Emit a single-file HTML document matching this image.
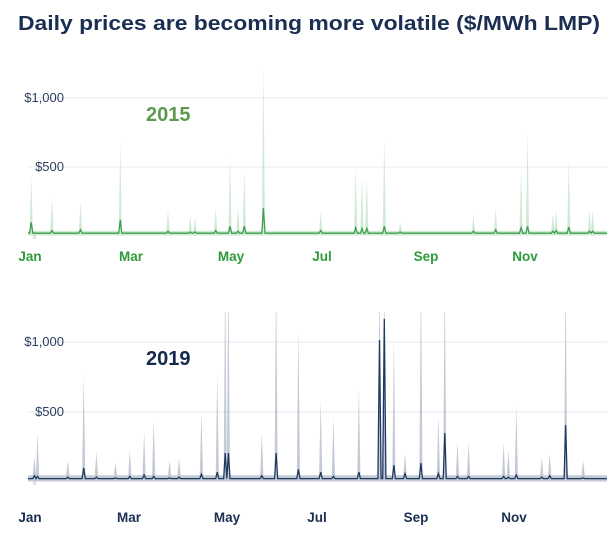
<!DOCTYPE html>
<html><head><meta charset="utf-8"><style>
html,body{margin:0;padding:0;background:#fff;}
svg{display:block;font-family:"Liberation Sans",sans-serif;}
</style></head><body>
<svg id="chart" width="612" height="535" viewBox="0 0 612 535">
<text x="18" y="30" font-size="20" font-weight="bold" fill="#1b2f52" textLength="582" lengthAdjust="spacingAndGlyphs">Daily prices are becoming more volatile ($/MWh LMP)</text>
<defs><clipPath id="clipB"><rect x="0" y="312" width="612" height="200"/></clipPath></defs>
<g id="top"></g>
<g id="bot"></g>
</svg>
<script>
// 2015 events: day, band high, median
const days2015 = [2,15,33,58,88,102,105,118,127,132,136,148,184,206,210,213,224,234,280,294,310,314,330,332,340,353,355];
const hi2015   = [428,275,246,674,188,145,130,203,565,200,478,1240,174,500,420,420,717,100,152,203,500,746,166,188,550,188,190];
const med2015  = [100,40,45,116,35,30,30,40,70,35,70,203,40,60,55,55,70,30,35,45,60,70,35,40,65,35,35];
const base2015 = {hi:38, med:20, lo:4};
const ticks2015 = [0,500,1000];
const tickLabels2015 = ["0","$500","$1,000"];
// 2019 events
const days2019 = [4,6,25,35,43,55,64,73,79,89,95,109,119,124,126,147,156,170,184,192,208,221,224,230,237,247,258,262,270,277,299,302,307,323,328,338,349];
const hi2019   = [180,357,157,764,214,135,228,357,443,157,171,500,786,1500,1500,357,1500,1100,586,457,679,1500,1500,1036,207,1500,478,1500,286,286,278,228,536,171,207,1500,157];
const med2019  = [45,40,35,100,35,30,40,50,40,30,35,55,70,207,207,45,207,90,70,40,70,1014,1165,120,60,135,60,350,40,40,40,35,50,35,45,407,30];
const base2019 = {hi:48, med:24, lo:4};
const ticks2019 = [0,500,1000];
const tickLabels2019 = ["0","$500","$1,000"];
const months = ["Jan","Mar","May","Jul","Sep","Nov"];

const NS="http://www.w3.org/2000/svg";
function mk(tag,attrs,parent){const e=document.createElementNS(NS,tag);for(const k in attrs)e.setAttribute(k,attrs[k]);parent.appendChild(e);return e;}
const xS=d=>28+d*(579/364);

function panel(g,cfg){
  const yS=v=>cfg.y0-v*cfg.k;
  cfg.ticks.forEach((t,i)=>{
    if(t>0){const l=mk('line',{x1:28,x2:607,y1:yS(t),y2:yS(t),stroke:'#eef0f5','stroke-width':1.5},g);
      
      
      const tx=mk('text',{x:cfg.labX,y:yS(t)+4,'font-size':13,fill:'#2c3e5f','text-anchor':'end'},g);tx.textContent=cfg.tickLabels[i];
      
      
    } else {
      const tx=mk('text',{x:33,y:yS(0)+3,'font-size':5,fill:'#9aa'},g);tx.textContent='0';
      
      
    }
  });
  const hi=[],med=[];
  for(let d=0;d<365;d++){hi.push(cfg.base.hi);med.push(cfg.base.med);}
  cfg.days.forEach((d,i)=>{hi[d]=cfg.hi[i];med[d]=cfg.med[i];});
  const cg=mk('g',cfg.clip?{'clip-path':'url(#clipB)'}:{},g);
  let p='M'+xS(0)+','+yS(cfg.base.lo);
  for(let d=0;d<365;d++)p+=' L'+xS(d).toFixed(1)+','+yS(hi[d]).toFixed(1);
  p+=' L'+xS(364)+','+yS(cfg.base.lo)+' Z';
  const band=mk('path',{d:p,fill:cfg.band},cg);
  
  
  let q='';
  for(let d=0;d<365;d++)q+=(d?' L':'M')+xS(d).toFixed(1)+','+yS(med[d]).toFixed(1);
  const ln=mk('path',{d:q,fill:'none',stroke:cfg.line,'stroke-width':1.3},cg);
  
  
  const yr=mk('text',{x:cfg.yrX,y:cfg.yrY,'font-size':20,'font-weight':'bold',fill:cfg.yrFill},g);yr.textContent=cfg.year;
  
  
  months.forEach((m,i)=>{
    const t=mk('text',{x:cfg.monX[i],y:cfg.monY,'font-size':13.5,'font-weight':'bold',fill:cfg.monFill,'text-anchor':'middle'},g);t.textContent=m;
    
    
  });
}
panel(document.getElementById('top'),{y0:236,k:69/500,ticks:ticks2015,tickLabels:tickLabels2015,labX:64,
  days:days2015,hi:hi2015,med:med2015,base:base2015,band:'rgba(70,170,90,0.25)',line:'#3f9e50',
  year:'2015',yrX:146,yrY:121,yrFill:'#5c9a4e',monX:[30,131,231,322,426,525],monY:261,monFill:'#2e9a3a',clip:false});
panel(document.getElementById('bot'),{y0:482,k:70/500,ticks:ticks2019,tickLabels:tickLabels2019,labX:64,
  days:days2019,hi:hi2019,med:med2019,base:base2019,band:'rgba(60,80,120,0.3)',line:'#1f3a5f',
  year:'2019',yrX:146,yrY:365,yrFill:'#14294b',monX:[30,129,227,317,416,514],monY:522,monFill:'#1b2f52',clip:true});
</script>
</body></html>
